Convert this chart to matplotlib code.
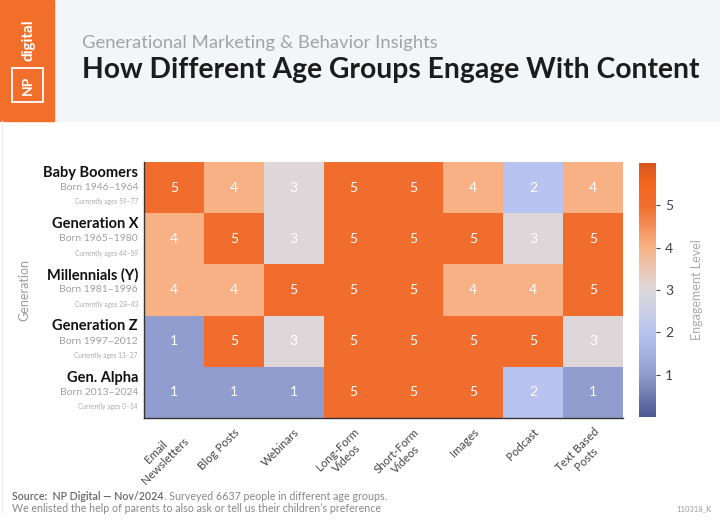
import matplotlib
matplotlib.use("Agg")
import matplotlib.pyplot as plt
import matplotlib.transforms as mtransforms
from matplotlib.colors import LinearSegmentedColormap
from matplotlib.patches import Rectangle
import numpy as np

# data
generations = ['Baby Boomers', 'Generation X', 'Millennials (Y)', 'Generation Z', 'Gen. Alpha']
born = ['Born 1946–1964', 'Born 1965–1980', 'Born 1981–1996', 'Born 1997–2012', 'Born 2013–2024']
ages = ['Currently ages 59–77', 'Currently ages 44–59', 'Currently ages 28–43',
        'Currently ages 13–27', 'Currently ages 0–14']
content = ['Email\nNewsletters', 'Blog Posts', 'Webinars', 'Long-Form\nVideos',
           'Short-Form\nVideos', 'Images', 'Podcast', 'Text Based\nPosts']
engagement = [
    [5, 4, 3, 5, 5, 4, 2, 4],
    [4, 5, 3, 5, 5, 5, 3, 5],
    [4, 4, 5, 5, 5, 4, 4, 5],
    [1, 5, 3, 5, 5, 5, 5, 3],
    [1, 1, 1, 5, 5, 5, 2, 1],
]
cbar_ticks = [1, 2, 3, 4, 5]

plt.rcParams['font.family'] = ['Lato', 'DejaVu Sans']

W, H = 720, 522
fig = plt.figure(figsize=(7.2, 5.22), dpi=100)
fig.patch.set_facecolor('white')

def box(x0, y0, x1, y1):
    # pixel box (top-left origin) -> figure fraction rect
    return [x0 / W, 1 - y1 / H, (x1 - x0) / W, (y1 - y0) / H]

# header
fig.patches.append(Rectangle((54 / W, 1 - 121 / H), 1 - 54 / W, 121 / H,
                             transform=fig.transFigure, color='#f4f5f7', zorder=0))
fig.patches.append(Rectangle((0, 1 - 121 / H), 54 / W, 121 / H,
                             transform=fig.transFigure, color='#f26f2b', zorder=1))
fig.patches.append(Rectangle((12 / W, 1 - 102 / H), 31 / W, 34 / H, transform=fig.transFigure,
                             fill=False, edgecolor='white', linewidth=1.3, zorder=2))
fig.text(28 / W, 1 - 85 / H, 'NP', color='white', fontsize=10, fontweight='bold',
         rotation=90, ha='center', va='center')
fig.text(28 / W, 1 - 40 / H, 'digital', color='white', fontsize=11, fontweight='bold',
         rotation=90, ha='center', va='center')
fig.lines.append(plt.Line2D([2 / W, 2 / W], [0.02, 1 - 121 / H], transform=fig.transFigure,
                            color='#eeeeee', linewidth=1))

fig.text(82 / W, 1 - 43 / H, 'Generational Marketing & Behavior Insights',
         color='#a3a3a3', fontsize=13.3, ha='left', va='center')
fig.text(82 / W, 1 - 70 / H, 'How Different Age Groups Engage With Content',
         color='#1c1c1c', fontsize=20.3, fontweight='bold', ha='left', va='center')

# colormap
cmap = LinearSegmentedColormap.from_list('eng', [
    (0 / 6, '#4b5892'),
    (1 / 6, '#919ecf'),
    (2 / 6, '#b8c3ef'),
    (3 / 6, '#ddd8dc'),
    (4 / 6, '#f8b185'),
    (5 / 6, '#f06e2e'),
    (5.5 / 6, '#f5661c'),
    (6 / 6, '#d5561c'),
])

ax = fig.add_axes(box(144, 162, 623, 418))
data = np.array(engagement)
im = ax.imshow(data, cmap=cmap, vmin=0, vmax=6, aspect='auto')

for i in range(data.shape[0]):
    for j in range(data.shape[1]):
        ax.text(j, i, str(data[i, j]), ha='center', va='center', color='white', fontsize=10)

ax.set_xticks(range(len(content)))
ax.set_xticklabels(content, rotation=45, ha='right', rotation_mode='anchor',
                   fontsize=8.3, color='#444444', multialignment='center')
ax.tick_params(axis='x', length=0, pad=6)
ax.set_yticks([])
for s in ['top', 'right']:
    ax.spines[s].set_visible(False)
for s in ['left', 'bottom']:
    ax.spines[s].set_color('#333333')
    ax.spines[s].set_linewidth(1)

# row labels
trans = mtransforms.blended_transform_factory(ax.transAxes, ax.transData)
xoff = -6 / 479
for i, name in enumerate(generations):
    ax.text(xoff, i - 0.29, name, transform=trans, ha='right', va='center',
            fontsize=10.5, fontweight='bold', color='#111111')
    ax.text(xoff, i + 0.0, born[i], transform=trans, ha='right', va='center',
            fontsize=7.5, color='#a0a0a0')
    ax.text(xoff, i + 0.28, ages[i], transform=trans, ha='right', va='center',
            fontsize=4.8, color='#aaaaaa')

fig.text(24 / W, 1 - 290 / H, 'Generation', rotation=90, ha='center', va='center',
         fontsize=9, color='#9a9a9a')

# colorbar
cax = fig.add_axes(box(639, 163, 656, 417))
cb = fig.colorbar(im, cax=cax, ticks=cbar_ticks)
cb.outline.set_visible(False)
cax.tick_params(labelsize=10, colors='#444444', length=3, width=0.8)
fig.text(697 / W, 1 - 290 / H, 'Engagement Level', rotation=90, ha='center', va='center',
         fontsize=9, color='#aaaaaa')

# footer
src = fig.text(12 / W, 1 - 497 / H, 'Source:  NP Digital — Nov/2024', fontsize=7.7,
               color='#666666', fontweight='semibold', ha='left', va='center')
ax.annotate('. Surveyed 6637 people in different age groups.', xy=(1, 0.5), xycoords=src,
            ha='left', va='center', fontsize=7.7, color='#888888',
            annotation_clip=False)
fig.text(12 / W, 1 - 509 / H, 'We enlisted the help of parents to also ask or tell us their children\u2019s preference',
         fontsize=7.7, color='#888888', ha='left', va='center')
fig.text(712 / W, 1 - 509 / H, '110318_K', fontsize=5.5, color='#999999', ha='right', va='center')

fig.savefig('out.png', dpi=100, facecolor='white')
